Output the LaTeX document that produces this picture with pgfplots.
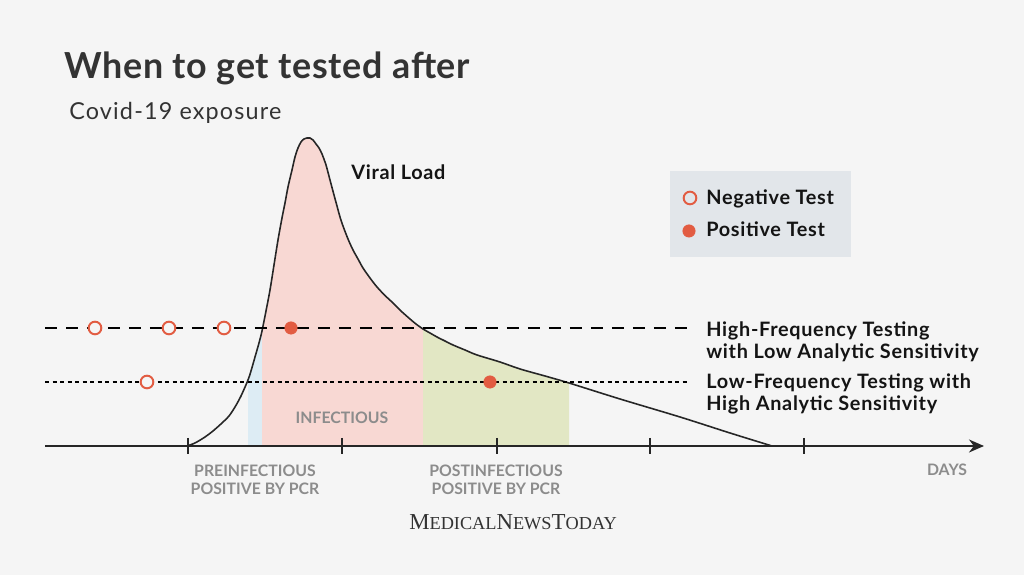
\documentclass[border=0pt]{standalone}
\usepackage{pgfplots}
\pgfplotsset{compat=1.18}
\usetikzlibrary{arrows.meta}
\usepackage{fontspec}
\setmainfont{Lato}
\newfontfamily\logofont{Liberation Serif}
\newfontfamily\lbl[LetterSpace=3.5]{Lato}
\newfontfamily\sub[LetterSpace=5]{Lato}
\newfontfamily\ttl[LetterSpace=2]{Lato}
\definecolor{bg}{RGB}{245,245,245}
\definecolor{pinkf}{RGB}{248,216,211}
\definecolor{bluef}{RGB}{221,236,244}
\definecolor{greenf}{RGB}{226,231,196}
\definecolor{legbg}{RGB}{226,230,234}
\definecolor{mk}{RGB}{226,92,66}
\definecolor{titlec}{RGB}{51,51,51}
\definecolor{grayt}{RGB}{140,140,140}
\definecolor{txt}{RGB}{20,20,20}
\pgfplotstableread{
x y
187 446
195 443
205 437
213 431
222 423
229 416
235 407
241 396
248 380
251 371
255 357
259 343
262 331
266 311
270 290
274 265
278 240
282 218
285 203
288 187
292 170
295 157
298 148
301 142
304 139
307 138
310 138
313 140
316 144
319 148
322 154
326 165
330 180
334 195
337 206
340 217
343 226
348 239
353 250
358 259
363 268
370 278
377 287
385 295.5
393 303
401 311
410 319
416 324
423 329
430 333
437 337
445 341
453 345
465 350
477 355
500 362
520 369
545 376
569 383
620 399
680 417
730 433
772 446
}\viral
\begin{document}
\begin{tikzpicture}
\fill[bg] (0,0) rectangle (20.48cm,11.5cm);
\begin{axis}[
  at={(0,0)}, anchor=south west,
  width=20.48cm, height=11.5cm, scale only axis,
  xmin=0, xmax=1024, ymin=0, ymax=575, y dir=reverse,
  axis lines=none, clip=false,
]
% shaded phases under the viral-load curve
\addplot[fill=bluef, draw=none] coordinates {(248,446) (248,380) (251,371) (255,357) (259,343) (262,331) (262,446)} -- cycle;
\addplot[fill=pinkf, draw=none] coordinates {(262,446) (262,331) (266,311) (270,290) (274,265) (278,240) (282,218) (285,203) (288,187) (292,170) (295,157) (298,148) (301,142) (304,139) (307,138) (310,138) (313,140) (316,144) (319,148) (322,154) (326,165) (330,180) (334,195) (337,206) (340,217) (343,226) (348,239) (353,250) (358,259) (363,268) (370,278) (377,287) (385,295.5) (393,303) (401,311) (410,319) (416,324) (423,329) (423,446)} -- cycle;
\addplot[fill=greenf, draw=none] coordinates {(423,446) (423,329) (430,333) (437,337) (445,341) (453,345) (465,350) (477,355) (500,362) (520,369) (545,376) (569,383) (569,446)} -- cycle;
\addplot[black!85, line width=0.9pt, smooth] table {\viral};
% test lines
\addplot[black, line width=0.85pt, dash pattern=on 0.24cm off 0.18cm] coordinates {(45,328) (690,328)};
\addplot[black, line width=0.85pt, dash pattern=on 0.08cm off 0.07cm] coordinates {(45,382) (690,382)};
% axis
\draw[black!85, line width=1.1pt, -{Stealth[length=0.3cm,width=0.26cm]}] (axis cs:45,446) -- (axis cs:984,446);
\addplot[black!85, line width=0.9pt] coordinates {(188,438) (188,454)};
\addplot[black!85, line width=0.9pt] coordinates {(342,438) (342,454)};
\addplot[black!85, line width=0.9pt] coordinates {(497,438) (497,454)};
\addplot[black!85, line width=0.9pt] coordinates {(650,438) (650,454)};
\addplot[black!85, line width=0.9pt] coordinates {(804,438) (804,454)};
% legend box
\fill[legbg] (axis cs:670,171) rectangle (axis cs:851,257);
% markers
\addplot[only marks, mark=*, mark size=3.6pt, mark options={draw=mk, fill=bg, line width=1.1pt}] coordinates {(95,328) (169,328) (224,328) (147,382)};
\addplot[only marks, mark=*, mark size=3.6pt, mark options={draw=mk, fill=legbg, line width=1.1pt}] coordinates {(690,198)};
\addplot[only marks, mark=*, mark size=3.5pt, mark options={draw=mk, fill=mk}] coordinates {(291,328) (490,382) (689,231)};
% texts
\node[anchor=base west, text=titlec, inner sep=0pt, font=\ttl\fontsize{20.4}{24}\selectfont\bfseries] at (axis cs:64,79) {When to get tested after};
\node[anchor=base west, text=titlec, inner sep=0pt, font=\sub\fontsize{13.3}{16}\selectfont] at (axis cs:69,120) {Covid-19 exposure};
\node[anchor=base west, text=txt, inner sep=0pt, font=\lbl\fontsize{11.3}{13}\selectfont\bfseries] at (axis cs:351,180) {Viral Load};
\node[anchor=base west, text=txt, inner sep=0pt, font=\lbl\fontsize{11.3}{13}\selectfont\bfseries] at (axis cs:706,205) {Negative Test};
\node[anchor=base west, text=txt, inner sep=0pt, font=\lbl\fontsize{11.3}{13}\selectfont\bfseries] at (axis cs:706,237) {Positive Test};
\node[anchor=base west, text=txt, inner sep=0pt, font=\lbl\fontsize{11.3}{13}\selectfont\bfseries] at (axis cs:706,337) {High-Frequency Testing};
\node[anchor=base west, text=txt, inner sep=0pt, font=\lbl\fontsize{11.3}{13}\selectfont\bfseries] at (axis cs:706,359) {with Low Analytic Sensitivity};
\node[anchor=base west, text=txt, inner sep=0pt, font=\lbl\fontsize{11.3}{13}\selectfont\bfseries] at (axis cs:706,389) {Low-Frequency Testing with};
\node[anchor=base west, text=txt, inner sep=0pt, font=\lbl\fontsize{11.3}{13}\selectfont\bfseries] at (axis cs:706,411) {High Analytic Sensitivity};
\node[anchor=base, text=grayt, inner sep=0pt, font=\fontsize{9}{11}\selectfont\bfseries] at (axis cs:342,424) {INFECTIOUS};
\node[anchor=base, text=grayt, inner sep=0pt, font=\fontsize{9}{11}\selectfont\bfseries] at (axis cs:255,477) {PREINFECTIOUS};
\node[anchor=base, text=grayt, inner sep=0pt, font=\fontsize{9}{11}\selectfont\bfseries] at (axis cs:255,495) {POSITIVE BY PCR};
\node[anchor=base, text=grayt, inner sep=0pt, font=\fontsize{9}{11}\selectfont\bfseries] at (axis cs:496,477) {POSTINFECTIOUS};
\node[anchor=base, text=grayt, inner sep=0pt, font=\fontsize{9}{11}\selectfont\bfseries] at (axis cs:496,495) {POSITIVE BY PCR};
\node[anchor=base, text=grayt, inner sep=0pt, font=\fontsize{9}{11}\selectfont\bfseries] at (axis cs:947,476) {DAYS};
\node[anchor=base, text=titlec, inner sep=0pt, font=\logofont] at (axis cs:513,530) {{\fontsize{13}{15}\selectfont M}{\fontsize{10.4}{12}\selectfont EDICAL}{\fontsize{13}{15}\selectfont N}{\fontsize{10.4}{12}\selectfont EWS}{\fontsize{13}{15}\selectfont T}{\fontsize{10.4}{12}\selectfont ODAY}};
\end{axis}
\end{tikzpicture}
\end{document}
